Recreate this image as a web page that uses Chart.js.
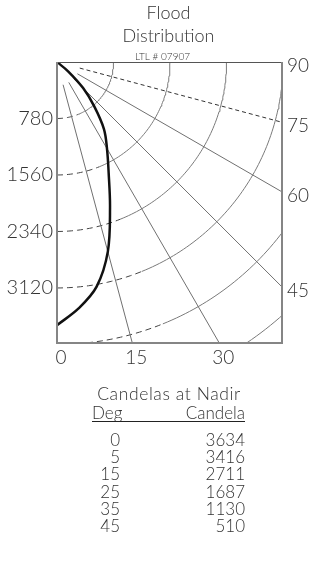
<!DOCTYPE html>
<html>
<head>
<meta charset="utf-8">
<script src="https://cdn.jsdelivr.net/npm/chart.js@4/dist/chart.umd.min.js"></script>
<style>
  body { margin: 0; background: #fff; }
  #chart { display: block; }
</style>
</head>
<body>
<canvas id="chart" width="311" height="569"></canvas>
<script>
// Title text
const titleLines = ["Flood", "Distribution"];
const subTitle = "LTL # 07907";

// Candela distribution (deg from nadir, candela)
const curveDeg = [0, 5, 10, 15, 20, 25, 30, 35, 40, 45, 50, 55];
const curveCd = [3634, 3416, 3150, 2711, 2140, 1687, 1380, 1130, 800, 510, 200, 0];

// Grid: candela rings, radial angle lines, labels
const ringCd = [780, 1560, 2340, 3120, 3900, 4680];
const leftTicks = [780, 1560, 2340, 3120];
const radialDeg = [15, 30, 45, 60, 75];
const rightDeg = [90, 75, 60, 45];
const bottomDeg = [0, 15, 30];

// Table under the chart
const tableTitle = "Candelas at Nadir";
const tableHead = ["Deg", "Candela"];
const tableDeg = [0, 5, 15, 25, 35, 45];
const tableCd = [3634, 3416, 2711, 1687, 1130, 510];

// axis extents in candela
const xMax = 3106;
const yMax = 3880;

const FONT = '"Lato", "DejaVu Sans", sans-serif';
const rad = d => d * Math.PI / 180;
const polar = (cd, deg) => ({ x: cd * Math.sin(rad(deg)), y: cd * Math.cos(rad(deg)) });

const datasets = [];
// the distribution curve (on top)
datasets.push({
    data: curveDeg.map((d, i) => polar(curveCd[i], d)),
    borderColor: "#111",
    borderWidth: 2.5,
    pointRadius: 0,
    tension: 0.35,
    order: 0
});
// radial lines
radialDeg.forEach(d => {
    datasets.push({
        data: [polar(325, d), polar(6000, d)],
        borderColor: d === 75 ? "#333" : "#707070",
        borderWidth: 1,
        borderDash: d === 75 ? [4, 3] : [],
        pointRadius: 0,
        order: 2
    });
});
// candela rings, dashed near the left edge
ringCd.forEach(r => {
    const pts = [];
    for (let d = 0; d <= 90; d++) pts.push(polar(r, d));
    datasets.push({
        data: pts,
        borderColor: "#7a7a7a",
        borderWidth: 1,
        pointRadius: 0,
        segment: {
            borderDash: ctx => ctx.p0DataIndex < 22 ? [6, 4] : undefined,
            borderColor: ctx => ctx.p0DataIndex < 22 ? "#444" : undefined
        },
        order: 3
    });
});

// frame, angle labels, titles and the nadir table
const decor = {
    id: "decor",
    afterDraw(chart) {
        const { ctx, chartArea: a, scales } = chart;
        ctx.save();
        ctx.strokeStyle = "#555";
        ctx.lineWidth = 1;
        ctx.beginPath();
        ctx.moveTo(a.left, a.top + 0.5);
        ctx.lineTo(a.right, a.top + 0.5);
        ctx.stroke();
        ctx.strokeStyle = "#858585";
        ctx.lineWidth = 2;
        ctx.beginPath();
        ctx.moveTo(a.left, a.top);
        ctx.lineTo(a.left, a.bottom);
        ctx.lineTo(a.right, a.bottom);
        ctx.lineTo(a.right, a.top);
        ctx.stroke();

        ctx.fillStyle = "#333";
        ctx.font = "300 19px " + FONT;
        ctx.textBaseline = "middle";
        ctx.textAlign = "left";
        rightDeg.forEach(d => {
            const v = d === 90 ? 0 : xMax / Math.tan(rad(d));
            ctx.fillText(String(d), a.right + 5, scales.y.getPixelForValue(v) + 4);
        });
        ctx.textAlign = "center";
        bottomDeg.forEach(d => {
            const v = yMax * Math.tan(rad(d));
            ctx.fillText(String(d), scales.x.getPixelForValue(v) + 4, 358);
        });

        const cx = (a.left + a.right) / 2 - 1;
        ctx.font = "300 18px " + FONT;
        ctx.fillText(titleLines[0], cx, 13);
        ctx.fillText(titleLines[1], cx, 36);
        ctx.font = "300 10px " + FONT;
        ctx.fillText(subTitle, cx - 6, 56.5);

        // table
        ctx.textBaseline = "alphabetic";
        ctx.font = "300 17.5px " + FONT;
        ctx.letterSpacing = "0.6px";
        ctx.textAlign = "center";
        ctx.fillText(tableTitle, 169, 400);
        ctx.letterSpacing = "0px";
        ctx.font = "300 17px " + FONT;
        ctx.textAlign = "left";
        ctx.fillText(tableHead[0], 92, 419);
        ctx.textAlign = "right";
        ctx.fillText(tableHead[1], 245, 419);
        ctx.strokeStyle = "#222";
        ctx.lineWidth = 1;
        ctx.beginPath();
        ctx.moveTo(92, 421.5);
        ctx.lineTo(245, 421.5);
        ctx.stroke();
        tableDeg.forEach((d, i) => {
            const y = 446 + i * 17.2;
            ctx.fillText(String(d), 120, y);
            ctx.fillText(String(tableCd[i]), 245, y);
        });
        ctx.restore();
    }
};

new Chart(document.getElementById("chart"), {
    type: "line",
    data: { datasets: datasets },
    options: {
        responsive: false,
        animation: false,
        layout: { padding: { top: 62, right: 29, bottom: 226, left: 0 } },
        plugins: { legend: { display: false }, tooltip: { enabled: false } },
        scales: {
            x: { type: "linear", min: 0, max: xMax, display: false },
            y: {
                type: "linear",
                reverse: true,
                min: 0,
                max: yMax,
                position: "left",
                afterBuildTicks: axis => { axis.ticks = leftTicks.map(v => ({ value: v })); },
                afterFit: axis => { axis.width = 57; },
                grid: { display: false, drawTicks: false },
                border: { display: false },
                ticks: {
                    padding: 4,
                    color: "#333",
                    font: { family: FONT, size: 20, weight: 300 },
                    callback: v => String(v)
                }
            }
        }
    },
    plugins: [decor]
});
</script>
</body>
</html>
